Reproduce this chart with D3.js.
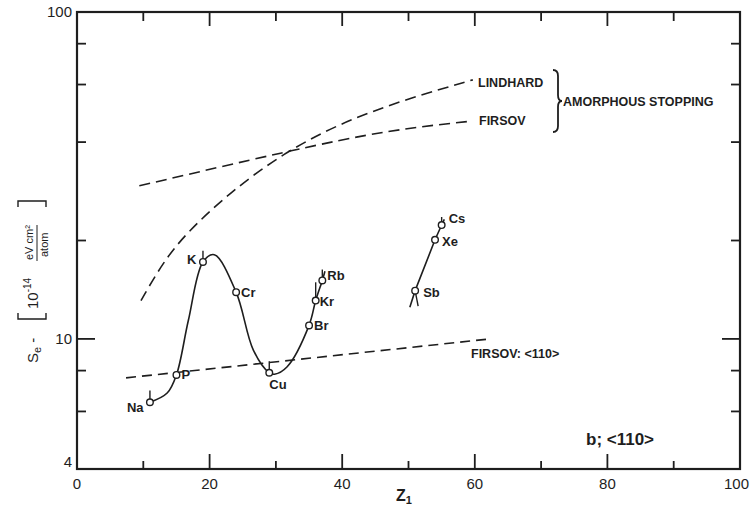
<!DOCTYPE html>
<html>
<head>
<meta charset="utf-8">
<script src="https://cdn.jsdelivr.net/npm/d3@7"></script>
<style>
  body { margin: 0; background: #fff; }
  text { font-family: "Liberation Sans", "DejaVu Sans", sans-serif; fill: #1e1e1e; }
</style>
</head>
<body>
<div class="chart"></div>
<script>
var width = 750,
    height = 505,
    ink = "#1e1e1e";

// measured points (Z1, Se)
var elements = ["Na", "P", "K", "Cr", "Cu", "Br", "Kr", "Rb", "Sb", "Xe", "Cs"];
var elemZ    = [11, 15, 19, 24, 29, 35, 36, 37, 51, 54, 55];
var elemSe   = [6.4, 7.76, 17.2, 13.9, 7.88, 11.0, 13.1, 15.1, 14.05, 20.1, 22.3];

// smooth curve through the light-ion points
var curveZ  = [11, 13.6, 15, 16.8, 19, 20.7, 24, 26.6, 29, 29.8, 31.7, 35, 36, 37, 37.4];
var curveSe = [6.4, 6.83, 7.76, 11.4, 17.2, 18.1, 13.9, 9.24, 7.88, 7.8, 8.22, 11.0, 13.1, 15.1, 16.1];

// straight line through Sb, Xe, Cs
var heavyZ  = [50.2, 51, 54, 55, 55.4];
var heavySe = [12.5, 14.05, 20.1, 22.3, 23.2];

// theory curves
var lindhardZ  = [9.65, 13.0, 16.6, 23.1, 31.1, 39.7, 49.2, 59.7];
var lindhardSe = [13.1, 17.2, 21.2, 28.1, 37.0, 45.7, 53.8, 62.0];
var firsovZ    = [9.4, 30.7, 46.7, 59.7];
var firsovSe   = [29.4, 37.0, 43.0, 46.4];
var firsov110Z  = [7.4, 62.3];
var firsov110Se = [7.6, 10.0];

// little error ticks: [element index, Se at end of tick]
var errTicks = [[0, 6.95], [2, 18.6], [4, 8.55], [6, 14.9], [7, 16.3], [10, 23.6]];

var xTicks = [0, 20, 40, 60, 80, 100];
var yLabels = [4, 10, 100];
var yMinor = [6, 8, 20, 40, 60, 80];

var x = d3.scaleLinear().domain([0, 100]).range([77, 740]);
var y = d3.scaleLog().domain([4, 100]).range([469, 12]);

var svg = d3.select(".chart").append("svg")
    .attr("width", width)
    .attr("height", height);

function pts(zs, ss) {
  return zs.map(function(z, i) { return [z, ss[i]]; });
}

var line = d3.line()
    .x(function(d) { return x(d[0]); })
    .y(function(d) { return y(d[1]); });

// frame
svg.append("rect")
    .attr("x", x(0)).attr("y", y(100))
    .attr("width", x(100) - x(0)).attr("height", y(4) - y(100))
    .attr("fill", "none").attr("stroke", ink).attr("stroke-width", 2.2);

// x ticks bottom and top
var xt = d3.range(10, 100, 10);
svg.append("g").selectAll("line.xb").data(xt).enter().append("line")
    .attr("x1", function(d) { return x(d); }).attr("x2", function(d) { return x(d); })
    .attr("y1", y(4))
    .attr("y2", function(d) { return y(4) - (d % 20 == 0 ? 15 : 8); })
    .attr("stroke", ink).attr("stroke-width", 1.8);
svg.append("g").selectAll("line.xt").data(xt).enter().append("line")
    .attr("x1", function(d) { return x(d); }).attr("x2", function(d) { return x(d); })
    .attr("y1", y(100))
    .attr("y2", function(d) { return y(100) + (d % 20 == 0 ? 14 : 9); })
    .attr("stroke", ink).attr("stroke-width", 1.8);

// y ticks left and right
var yt = yMinor.concat([10]);
svg.append("g").selectAll("line.yl").data(yt).enter().append("line")
    .attr("y1", function(d) { return y(d); }).attr("y2", function(d) { return y(d); })
    .attr("x1", x(0))
    .attr("x2", function(d) { return x(0) + (d == 10 ? 18 : 9); })
    .attr("stroke", ink).attr("stroke-width", 1.8);
svg.append("g").selectAll("line.yr").data(yt).enter().append("line")
    .attr("y1", function(d) { return y(d); }).attr("y2", function(d) { return y(d); })
    .attr("x1", x(100))
    .attr("x2", function(d) { return x(100) - (d == 10 ? 18 : 9); })
    .attr("stroke", ink).attr("stroke-width", 1.8);

// tick labels
svg.append("g").selectAll("text").data(xTicks).enter().append("text")
    .attr("x", function(d) { return d == 100 ? 749 : x(d); })
    .attr("y", 489)
    .attr("text-anchor", function(d) { return d == 100 ? "end" : "middle"; })
    .style("font-size", "15px")
    .text(function(d) { return d; });

svg.append("g").selectAll("text").data(yLabels).enter().append("text")
    .attr("x", 72)
    .attr("y", function(d) { return d == 4 ? y(d) - 2 : y(d) + 5; })
    .attr("text-anchor", "end")
    .style("font-size", "15px")
    .text(function(d) { return d; });

// axis titles
var xl = svg.append("text")
    .attr("x", 404).attr("y", 501)
    .attr("text-anchor", "middle")
    .style("font-size", "16px").style("font-weight", "bold");
xl.append("tspan").text("Z");
xl.append("tspan").attr("dy", 3).style("font-size", "11px").text("1");

var yl = svg.append("g").attr("transform", "translate(38,283) rotate(-90)");
var yt1 = yl.append("text").attr("x", -80).attr("y", 0)
    .attr("text-anchor", "start").style("font-size", "15px");
yt1.append("tspan").text("S");
yt1.append("tspan").attr("dy", 3).style("font-size", "11px").text("e");
yt1.append("tspan").attr("dy", -3).text(" - ");
var y10 = yl.append("text").attr("x", -26).attr("y", 0).style("font-size", "15px");
y10.append("tspan").text("10");
y10.append("tspan").attr("dy", -7).style("font-size", "10px").text("-14");
yl.append("text").attr("x", 23).attr("y", -5).style("font-size", "11px").text("eV cm²");
yl.append("line").attr("x1", 22).attr("x2", 58).attr("y1", -1).attr("y2", -1)
    .attr("stroke", ink).attr("stroke-width", 1);
yl.append("text").attr("x", 26).attr("y", 10).style("font-size", "11px").text("atom");
// tall square brackets
yl.append("path").attr("d", "M-30,-20 L-36,-20 L-36,8 L-30,8")
    .attr("fill", "none").attr("stroke", ink).attr("stroke-width", 1.4);
yl.append("path").attr("d", "M76,-20 L82,-20 L82,8 L76,8")
    .attr("fill", "none").attr("stroke", ink).attr("stroke-width", 1.4);

// dashed theory curves
svg.append("path").datum(pts(lindhardZ, lindhardSe))
    .attr("d", line.curve(d3.curveBasis))
    .attr("fill", "none").attr("stroke", ink).attr("stroke-width", 1.6)
    .attr("stroke-dasharray", "11,6");
svg.append("path").datum(pts(firsovZ, firsovSe))
    .attr("d", line.curve(d3.curveNatural))
    .attr("fill", "none").attr("stroke", ink).attr("stroke-width", 1.6)
    .attr("stroke-dasharray", "11,6");
svg.append("path").datum(pts(firsov110Z, firsov110Se))
    .attr("d", line.curve(d3.curveLinear))
    .attr("fill", "none").attr("stroke", ink).attr("stroke-width", 1.6)
    .attr("stroke-dasharray", "10,6");

// solid curves through the data
svg.append("path").datum(pts(curveZ, curveSe))
    .attr("d", line.curve(d3.curveCatmullRom.alpha(0.5)))
    .attr("fill", "none").attr("stroke", ink).attr("stroke-width", 1.6);
svg.append("path").datum(pts(heavyZ, heavySe))
    .attr("d", line.curve(d3.curveLinear))
    .attr("fill", "none").attr("stroke", ink).attr("stroke-width", 1.6);

// error ticks
svg.append("g").selectAll("line").data(errTicks).enter().append("line")
    .attr("x1", function(d) { return x(elemZ[d[0]]); })
    .attr("x2", function(d) { return x(elemZ[d[0]]); })
    .attr("y1", function(d) { return y(elemSe[d[0]]); })
    .attr("y2", function(d) { return y(d[1]); })
    .attr("stroke", ink).attr("stroke-width", 1.4);
// Sb fork below the point
svg.append("path")
    .attr("d", "M" + x(51) + "," + y(14.05) + " L" + (x(51) + 3) + "," + y(12.6))
    .attr("stroke", ink).attr("stroke-width", 1.4).attr("fill", "none");

// open circles
svg.append("g").selectAll("circle").data(elemZ).enter().append("circle")
    .attr("cx", function(d) { return x(d); })
    .attr("cy", function(d, i) { return y(elemSe[i]); })
    .attr("r", 3.3)
    .attr("fill", "#fff").attr("stroke", ink).attr("stroke-width", 1.4);

// element labels
var labOff = {
  Na: [-23, 10], P: [5, 4], K: [-16, 2], Cr: [5, 5], Cu: [0, 16], Br: [5, 5],
  Kr: [4, 5], Rb: [5, 0], Sb: [8, 6], Xe: [7, 6], Cs: [7, -2]
};
svg.append("g").selectAll("text").data(elements).enter().append("text")
    .attr("x", function(d, i) { return x(elemZ[i]) + labOff[d][0]; })
    .attr("y", function(d, i) { return y(elemSe[i]) + labOff[d][1]; })
    .style("font-size", "13px").style("font-weight", "bold")
    .text(function(d) { return d; });

// curve labels
svg.append("text").attr("x", 478).attr("y", 87).style("font-size", "12.5px").style("font-weight", "bold").text("LINDHARD");
svg.append("text").attr("x", 479).attr("y", 125).style("font-size", "12.5px").style("font-weight", "bold").text("FIRSOV");
svg.append("path")
    .attr("d", "M553,70 Q558,70 558,76 L558,95 Q558,101 562,101 Q558,101 558,107 L558,126 Q558,132 553,132")
    .attr("fill", "none").attr("stroke", ink).attr("stroke-width", 1.8);
svg.append("text").attr("x", 563).attr("y", 106).style("font-size", "12.5px").style("font-weight", "bold").text("AMORPHOUS STOPPING");
svg.append("text").attr("x", 471).attr("y", 358).style("font-size", "12.5px").style("font-weight", "bold").text("FIRSOV:  <110>");
svg.append("text").attr("x", 586).attr("y", 445).style("font-size", "17px").style("font-weight", "bold").text("b;  <110>");
</script>
</body>
</html>
